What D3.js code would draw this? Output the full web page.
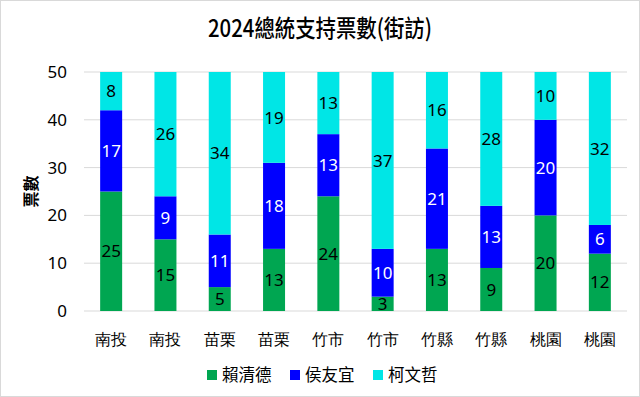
<!DOCTYPE html>
<html>
<head>
<meta charset="utf-8">
<script src="https://cdn.jsdelivr.net/npm/d3@7"></script>
<style>
  body { margin: 0; background: #fff; }
  svg { font-family: "Noto Sans CJK TC", "Noto Sans", sans-serif; }
</style>
</head>
<body>
<div id="chart"></div>
<script>
// data
const categories = ['南投', '南投', '苗栗', '苗栗', '竹市', '竹市', '竹縣', '竹縣', '桃園', '桃園'];
const lai = [25, 15, 5, 13, 24, 3, 13, 9, 20, 12];
const hou = [17, 9, 11, 18, 13, 10, 21, 13, 20, 6];
const ko = [8, 26, 34, 19, 13, 37, 16, 28, 10, 32];
const seriesNames = ['賴清德', '侯友宜', '柯文哲'];
const yTicks = [0, 10, 20, 30, 40, 50];

const colors = ['#00A651', '#0000FF', '#00E6E6'];
const labelColors = ['#000', '#fff', '#000'];

const W = 640, H = 397;
const margin = { top: 72, right: 13, bottom: 86, left: 84 };
const width = W - margin.left - margin.right,
  height = H - margin.top - margin.bottom;

const svg = d3.select('#chart').append('svg')
  .attr('width', W)
  .attr('height', H);

// chart border
svg.append('rect')
  .attr('x', 0.5).attr('y', 0.5)
  .attr('width', W - 1).attr('height', H - 1)
  .attr('fill', '#fff')
  .attr('stroke', '#d9d9d9');

svg.append('text')
  .attr('x', 208)
  .attr('y', 37)
  .attr('textLength', 224)
  .attr('lengthAdjust', 'spacingAndGlyphs')
  .style('font-size', '24px')
  .style('font-weight', '500')
  .style('fill', '#000')
  .text('2024總統支持票數(街訪)');

const g = svg.append('g')
  .attr('transform', `translate(${margin.left}, ${margin.top})`);

const rows = categories.map((c, i) => ({ i: i, cat: c, lai: lai[i], hou: hou[i], ko: ko[i] }));
const keys = ['lai', 'hou', 'ko'];

const x = d3.scaleBand()
  .domain(d3.range(categories.length))
  .range([0, width])
  .paddingInner(0.595)
  .paddingOuter(0.2975);

const y = d3.scaleLinear()
  .domain([0, 50])
  .range([height, 0]);

// gridlines
g.append('g')
  .selectAll('line')
  .data(yTicks)
  .join('line')
  .attr('x1', 0).attr('x2', width)
  .attr('y1', d => y(d)).attr('y2', d => y(d))
  .attr('stroke', '#d9d9d9');

// y axis labels
const yAxis = g.append('g')
  .call(d3.axisLeft(y).tickValues(yTicks).tickSize(0).tickPadding(17));
yAxis.select('.domain').remove();
yAxis.selectAll('text')
  .style('font-size', '17px')
  .style('font-family', '"Noto Sans", sans-serif')
  .style('fill', '#000');

// x axis labels
const xAxis = g.append('g')
  .attr('transform', `translate(0, ${height})`)
  .call(d3.axisBottom(x).tickFormat(i => categories[i]).tickSize(0).tickPadding(23));
xAxis.select('.domain').remove();
xAxis.selectAll('text')
  .style('font-size', '16px')
  .style('fill', '#000');

// y axis title
svg.append('text')
  .attr('transform', `translate(37, ${margin.top + height / 2}) rotate(-90)`)
  .attr('text-anchor', 'middle')
  .style('font-size', '16px')
  .style('font-weight', 'bold')
  .style('fill', '#000')
  .text('票數');

// stacked bars
const stacked = d3.stack().keys(keys)(rows);

const layers = g.selectAll('.layer')
  .data(stacked)
  .join('g')
  .attr('class', 'layer')
  .attr('fill', (d, i) => colors[i]);

layers.selectAll('rect')
  .data(d => d)
  .join('rect')
  .attr('x', d => x(d.data.i))
  .attr('y', d => y(d[1]))
  .attr('width', x.bandwidth())
  .attr('height', d => y(d[0]) - y(d[1]));

// value labels
stacked.forEach((layer, li) => {
  g.append('g')
    .selectAll('text')
    .data(layer)
    .join('text')
    .attr('x', d => x(d.data.i) + x.bandwidth() / 2)
    .attr('y', d => (y(d[0]) + y(d[1])) / 2)
    .attr('dy', '0.36em')
    .attr('text-anchor', 'middle')
    .style('font-size', '17px')
    .style('font-family', '"Noto Sans", sans-serif')
    .style('fill', labelColors[li])
    .text(d => d[1] - d[0]);
});

// legend
const legend = svg.append('g')
  .attr('transform', `translate(0, ${H - 22})`);
const legendX = [207, 290, 373];
seriesNames.forEach((name, i) => {
  const lg = legend.append('g').attr('transform', `translate(${legendX[i]}, 0)`);
  lg.append('rect')
    .attr('x', 0).attr('y', -5)
    .attr('width', 10).attr('height', 10)
    .attr('fill', colors[i]);
  lg.append('text')
    .attr('x', 15)
    .attr('y', 0)
    .attr('dy', '0.36em')
    .style('font-size', '16.5px')
    .style('fill', '#000')
    .text(name);
});
</script>
</body>
</html>
